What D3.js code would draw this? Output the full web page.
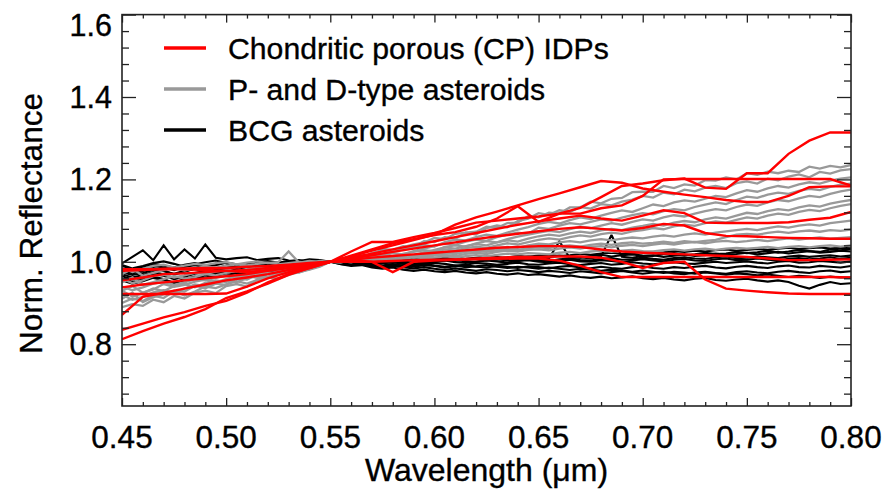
<!DOCTYPE html>
<html><head><meta charset="utf-8">
<script src="https://cdn.jsdelivr.net/npm/d3@7"></script>
<style>body{margin:0;background:#fff}svg{display:block}text{font-family:"Liberation Sans",Arial,Helvetica,sans-serif;fill:#000;stroke:#000;stroke-width:0.35px}</style>
</head><body><svg id="chart" width="888" height="493"></svg>
<script>
// ---------- DATA ----------
const idpWavelengths = [0.45,0.46,0.47,0.48,0.49,0.50,0.51,0.52,0.53,0.54,0.55,0.56,0.57,0.58,0.59,0.60,0.61,0.62,0.63,0.64,0.65,0.66,0.67,0.68,0.69,0.70,0.71,0.72,0.73,0.74,0.75,0.76,0.77,0.78,0.79,0.80];
const asteroidWavelengths = [0.450,0.455,0.460,0.465,0.470,0.475,0.480,0.485,0.490,0.495,0.500,0.505,0.510,0.515,0.520,0.525,0.530,0.535,0.540,0.545,0.550,0.555,0.560,0.565,0.570,0.575,0.580,0.585,0.590,0.595,0.600,0.605,0.610,0.615,0.620,0.625,0.630,0.635,0.640,0.645,0.650,0.655,0.660,0.665,0.670,0.675,0.680,0.685,0.690,0.695,0.700,0.705,0.710,0.715,0.720,0.725,0.730,0.735,0.740,0.745,0.750,0.755,0.760,0.765,0.770,0.775,0.780,0.785,0.790,0.795,0.800];

// Chondritic porous IDPs (red)
const idpSpectra = [
 [0.812,0.832,0.850,0.866,0.885,0.912,0.928,0.947,0.968,0.985,1.000,1.015,1.030,1.045,1.055,1.065,1.072,1.085,1.105,1.135,1.097,1.117,1.131,1.157,1.184,1.190,1.198,1.202,1.180,1.177,1.215,1.215,1.262,1.294,1.314,1.314],
 [0.871,0.915,0.925,0.935,0.945,0.955,0.962,0.970,0.980,0.990,1.000,1.013,1.027,1.040,1.053,1.066,1.090,1.108,1.122,1.137,1.152,1.166,1.181,1.196,1.192,1.178,1.170,1.163,1.157,1.150,1.145,1.145,1.160,1.181,1.183,1.183],
 [0.835,0.850,0.865,0.878,0.893,0.905,0.925,0.950,0.970,0.985,1.000,1.025,1.048,1.048,1.060,1.070,1.082,1.095,1.100,1.105,1.110,1.117,1.117,1.130,1.137,1.160,1.200,1.201,1.201,1.201,1.201,1.201,1.201,1.201,1.201,1.185],
 [0.922,0.922,0.922,0.922,0.922,0.923,0.940,0.960,0.975,0.988,1.000,1.010,1.020,1.030,1.040,1.050,1.060,1.070,1.080,1.090,1.098,1.105,1.112,1.105,1.100,1.112,1.125,1.118,1.095,1.094,1.094,1.094,1.096,1.102,1.107,1.121],
 [0.938,0.945,0.950,0.955,0.960,0.965,0.970,0.978,0.985,0.993,1.000,1.008,1.016,1.024,1.032,1.040,1.047,1.055,1.062,1.068,1.074,1.080,1.084,1.080,1.076,1.082,1.092,1.088,1.070,1.063,1.062,1.060,1.058,1.057,1.056,1.056],
 [0.955,0.962,0.970,0.972,0.975,0.978,0.980,0.985,0.990,0.995,1.000,1.005,1.010,1.014,1.018,1.022,1.026,1.030,1.034,1.036,1.038,1.038,1.036,1.030,1.025,1.022,1.020,1.018,1.016,1.014,1.012,1.008,1.004,1.004,1.005,1.006],
 [0.978,0.980,0.983,0.984,0.985,0.985,0.988,0.990,0.993,0.997,1.000,1.005,1.000,0.975,1.000,1.003,1.005,1.006,1.007,1.008,1.008,1.003,0.990,0.975,0.963,0.963,0.963,0.963,0.963,0.963,0.963,0.963,0.963,0.963,0.963,0.962],
 [0.982,0.982,0.982,0.982,0.980,0.978,0.975,0.980,0.990,0.995,1.000,1.000,1.000,1.002,1.004,1.005,1.006,1.008,1.010,1.012,1.012,1.013,1.013,1.010,1.000,0.985,0.997,1.000,0.957,0.935,0.930,0.926,0.923,0.922,0.922,0.922]
];

// P- and D-type asteroids (gray)
const pdSpectra = [
 [0.900,0.911,0.905,0.918,0.912,0.929,0.928,0.942,0.936,0.947,0.944,0.960,0.957,0.969,0.963,0.978,0.981,0.980,0.996,0.993,1.000,
  1.009,1.007,1.017,1.015,1.031,1.029,1.038,1.036,1.050,1.048,1.060,1.056,1.071,1.073,1.085,1.082,1.094,1.095,1.111,1.108,
  1.119,1.117,1.132,1.132,1.146,1.142,1.153,1.155,1.169,1.170,1.170,1.184,1.179,1.188,1.185,1.198,1.197,1.205,1.200,1.215,
  1.211,1.219,1.215,1.221,1.218,1.231,1.226,1.233,1.229,1.235],
 [0.890,0.897,0.893,0.908,0.902,0.917,0.911,0.925,0.930,0.924,0.941,0.946,0.940,0.957,0.962,0.958,0.972,0.979,0.984,0.991,1.000,
  1.004,1.013,1.009,1.022,1.027,1.024,1.036,1.042,1.047,1.058,1.055,1.068,1.071,1.066,1.082,1.088,1.084,1.099,1.105,1.118,
  1.114,1.125,1.121,1.133,1.129,1.140,1.137,1.146,1.151,1.160,1.156,1.168,1.164,1.175,1.171,1.180,1.184,1.179,1.191,1.195,
  1.190,1.202,1.198,1.207,1.212,1.205,1.218,1.214,1.222,1.225],
 [0.920,0.908,0.915,0.926,0.931,0.924,0.935,0.945,0.941,0.948,0.956,0.951,0.960,0.966,0.962,0.970,0.978,0.974,0.983,0.990,1.000,
  1.004,1.009,1.006,1.013,1.019,1.026,1.031,1.035,1.041,1.037,1.048,1.054,1.052,1.060,1.066,1.063,1.071,1.078,1.084,1.092,
  1.097,1.093,1.101,1.108,1.104,1.112,1.119,1.125,1.121,1.130,1.139,1.135,1.144,1.149,1.146,1.153,1.160,1.157,1.166,1.174,
  1.170,1.178,1.184,1.180,1.188,1.193,1.190,1.197,1.202,1.205],
 [0.930,0.941,0.925,0.933,0.946,0.939,0.944,0.952,0.957,0.950,0.958,0.966,0.963,0.970,0.975,0.972,0.979,0.985,0.982,0.992,1.000,
  0.998,1.006,1.011,1.008,1.015,1.021,1.018,1.026,1.032,1.038,1.045,1.041,1.049,1.054,1.051,1.060,1.066,1.071,1.068,1.083,
  1.080,1.088,1.094,1.091,1.097,1.103,1.100,1.107,1.113,1.118,1.115,1.123,1.128,1.125,1.133,1.139,1.144,1.140,1.150,1.158,
  1.155,1.163,1.168,1.165,1.172,1.177,1.174,1.182,1.187,1.190],
 [0.910,0.925,0.902,0.914,0.921,0.930,0.918,0.928,0.940,0.936,0.945,0.953,0.947,0.956,0.962,0.959,0.968,0.975,0.981,0.988,1.000,
  1.003,1.007,1.004,1.010,1.015,1.012,1.019,1.024,1.028,1.025,1.036,1.040,1.037,1.045,1.050,1.047,1.055,1.061,1.066,1.071,
  1.075,1.072,1.079,1.085,1.082,1.088,1.094,1.090,1.097,1.103,1.100,1.108,1.113,1.110,1.117,1.123,1.128,1.125,1.133,1.139,
  1.136,1.144,1.150,1.147,1.154,1.160,1.157,1.165,1.171,1.175],
 [0.940,0.931,0.938,0.947,0.951,0.944,0.950,0.958,0.955,0.961,0.967,0.963,0.969,0.974,0.971,0.977,0.983,0.980,0.987,0.994,1.000,
  1.003,1.000,1.006,1.010,1.007,1.014,1.019,1.016,1.023,1.029,1.035,1.032,1.038,1.043,1.040,1.047,1.052,1.049,1.056,1.062,
  1.066,1.063,1.069,1.073,1.070,1.076,1.080,1.077,1.083,1.087,1.092,1.088,1.095,1.099,1.096,1.103,1.108,1.105,1.112,1.119,
  1.116,1.123,1.128,1.125,1.132,1.137,1.134,1.141,1.146,1.150],
 [0.950,0.962,0.944,0.951,0.958,0.965,0.959,0.963,0.970,0.967,0.973,0.978,0.975,0.981,0.984,0.980,0.987,0.991,0.988,0.995,1.000,
  1.002,0.999,1.005,1.009,1.006,1.012,1.016,1.013,1.019,1.024,1.030,1.027,1.033,1.037,1.034,1.040,1.045,1.042,1.048,1.053,
  1.057,1.054,1.060,1.064,1.061,1.067,1.071,1.068,1.074,1.077,1.082,1.079,1.086,1.090,1.087,1.094,1.098,1.095,1.102,1.108,
  1.105,1.112,1.117,1.114,1.121,1.126,1.123,1.130,1.136,1.140],
 [0.930,0.916,0.924,0.935,0.929,0.941,0.946,0.938,0.949,0.955,0.951,0.960,0.965,0.961,0.970,0.974,0.971,0.979,0.985,0.992,1.000,
  1.002,1.005,1.001,1.007,1.010,1.007,1.013,1.016,1.013,1.019,1.024,1.021,1.027,1.030,1.027,1.033,1.036,1.034,1.040,1.044,
  1.042,1.047,1.050,1.047,1.052,1.055,1.052,1.056,1.059,1.057,1.061,1.064,1.061,1.066,1.069,1.066,1.071,1.074,1.077,1.080,
  1.077,1.082,1.086,1.083,1.088,1.091,1.088,1.094,1.097,1.100],
 [0.960,0.948,0.955,0.965,0.969,0.962,0.967,0.973,0.970,0.976,0.980,0.977,0.983,0.986,0.983,0.988,0.991,0.989,0.994,0.997,1.000,
  1.002,1.000,1.005,1.008,1.005,1.010,1.013,1.011,1.015,1.018,1.021,1.019,1.024,1.026,1.024,1.028,1.031,1.029,1.033,1.035,
  1.033,1.038,1.040,1.037,1.041,1.044,1.041,1.045,1.047,1.044,1.046,1.049,1.046,1.050,1.048,1.051,1.053,1.060,1.066,1.068,
  1.066,1.070,1.073,1.070,1.074,1.076,1.073,1.077,1.075,1.078],
 [0.970,0.983,0.966,0.973,0.980,0.985,0.979,0.984,0.989,0.986,0.990,0.994,0.991,0.995,0.998,0.994,0.997,1.000,0.998,1.002,1.000,
  1.003,1.006,1.002,1.005,1.008,1.006,1.010,1.013,1.011,1.015,1.017,1.014,1.019,1.022,1.019,1.024,1.027,1.025,1.029,1.030,
  1.028,1.032,1.035,1.032,1.036,1.038,1.035,1.039,1.041,1.038,1.042,1.045,1.042,1.046,1.048,1.045,1.049,1.051,1.048,1.050,
  1.053,1.050,1.054,1.057,1.054,1.057,1.059,1.056,1.058,1.060],
 [0.985,0.975,0.983,0.990,0.993,0.986,0.991,0.995,0.992,0.997,0.999,0.994,0.998,1.001,0.997,0.999,1.025,0.998,1.002,0.999,1.000,
  1.003,1.005,1.002,1.004,1.007,1.005,1.008,1.011,1.009,1.010,1.013,1.011,1.014,1.016,1.013,1.017,1.020,1.018,1.021,1.020,
  1.018,1.022,1.024,1.021,1.025,1.027,1.024,1.027,1.029,1.026,1.025,1.028,1.030,1.027,1.030,1.032,1.029,1.032,1.034,1.032,
  1.034,1.036,1.033,1.036,1.038,1.035,1.038,1.040,1.037,1.040]
];

// BCG asteroids (black)
const bcgSpectra = [
 [0.996,1.012,1.028,1.004,1.040,1.006,1.030,1.008,1.042,1.010,1.006,1.009,1.011,1.004,1.007,1.009,1.003,1.002,1.006,1.004,1.000,
  1.002,1.006,1.003,0.999,1.001,1.005,1.008,1.004,1.003,1.007,1.010,1.006,1.005,1.009,1.008,1.012,1.007,1.009,1.013,1.010,
  1.011,1.015,1.012,1.010,1.014,1.017,1.013,1.016,1.018,1.015,1.014,1.019,1.021,1.016,1.018,1.022,1.019,1.020,1.024,1.021,
  1.023,1.027,1.022,1.025,1.029,1.026,1.024,1.030,1.028,1.031],
 [0.990,0.982,0.988,0.995,0.991,0.986,0.993,0.997,0.990,0.992,0.998,0.994,0.991,0.996,0.999,0.995,0.997,1.002,0.998,0.997,1.000,
  1.002,0.999,1.004,1.003,0.998,1.001,1.005,1.003,1.000,1.004,1.007,1.002,1.005,1.008,1.004,1.006,1.009,1.006,1.005,1.010,
  1.008,1.050,1.009,1.011,1.008,1.013,1.065,1.012,1.010,1.014,1.016,1.012,1.015,1.018,1.014,1.016,1.020,1.017,1.019,1.022,
  1.018,1.021,1.024,1.020,1.023,1.026,1.022,1.024,1.027,1.025],
 [0.985,0.976,0.983,0.990,0.986,0.980,0.988,0.992,0.987,0.984,0.991,0.994,0.990,0.993,0.997,0.992,0.995,0.999,0.996,0.998,1.000,
  1.001,0.997,0.999,1.003,1.000,0.997,1.001,1.004,1.002,0.999,1.003,1.005,1.001,1.000,1.004,1.006,1.003,1.002,1.006,1.004,
  1.002,1.006,1.008,1.004,1.003,1.007,1.009,1.005,1.006,1.010,1.007,1.005,1.009,1.011,1.008,1.007,1.011,1.013,1.009,1.010,
  1.013,1.011,1.009,1.013,1.015,1.012,1.014,1.016,1.013,1.015],
 [0.975,0.968,0.973,0.980,0.977,0.971,0.978,0.983,0.980,0.976,0.984,0.987,0.983,0.986,0.990,0.988,0.985,0.991,0.994,0.996,1.000,
  0.998,1.001,0.997,0.995,0.999,1.002,0.999,0.996,0.998,1.001,1.003,0.999,0.997,1.000,1.003,1.001,0.998,1.002,1.004,1.000,
  0.999,1.003,1.005,1.001,1.000,1.004,1.002,0.999,1.003,1.006,1.003,1.001,1.005,1.007,1.003,1.002,1.006,1.008,1.004,1.005,
  1.008,1.005,1.003,1.007,1.009,1.006,1.008,1.011,1.007,1.010],
 [0.970,0.962,0.968,0.975,0.970,0.960,0.966,0.973,0.978,0.972,0.976,0.982,0.978,0.975,0.983,0.987,0.984,0.989,0.993,0.991,1.000,
  0.997,0.999,0.995,0.993,0.997,0.999,0.995,0.992,0.994,0.997,0.995,0.991,0.993,0.997,0.996,0.993,0.995,0.998,0.994,0.993,
  0.996,0.998,0.994,0.992,0.995,0.997,0.993,0.995,0.999,0.996,0.994,0.997,0.999,0.996,0.995,0.998,1.000,0.997,0.999,1.001,
  0.998,0.996,1.000,1.002,0.998,0.999,1.002,1.000,0.998,1.001],
 [0.965,0.957,0.962,0.970,0.966,0.958,0.964,0.971,0.975,0.970,0.974,0.979,0.976,0.981,0.985,0.982,0.986,0.990,0.988,0.994,1.000,
  0.997,0.994,0.996,0.992,0.990,0.994,0.991,0.988,0.992,0.990,0.986,0.989,0.992,0.988,0.986,0.990,0.988,0.985,0.989,0.987,
  0.984,0.988,0.990,0.986,0.984,0.988,0.985,0.983,0.987,0.989,0.985,0.983,0.987,0.985,0.988,0.990,0.986,0.984,0.988,0.990,
  0.987,0.985,0.989,0.991,0.987,0.986,0.990,0.988,0.986,0.990],
 [0.960,0.951,0.957,0.964,0.958,0.948,0.955,0.962,0.967,0.962,0.968,0.973,0.969,0.975,0.979,0.976,0.981,0.986,0.983,0.992,1.000,
  0.995,0.992,0.994,0.989,0.986,0.990,0.987,0.984,0.987,0.983,0.980,0.984,0.981,0.978,0.982,0.980,0.977,0.980,0.978,0.975,
  0.978,0.976,0.973,0.977,0.975,0.972,0.975,0.978,0.974,0.971,0.974,0.976,0.972,0.970,0.974,0.976,0.973,0.971,0.975,0.977,
  0.974,0.972,0.976,0.978,0.975,0.973,0.977,0.979,0.975,0.977],
 [0.955,0.947,0.953,0.961,0.956,0.950,0.958,0.964,0.960,0.966,0.970,0.965,0.971,0.976,0.973,0.979,0.983,0.980,0.987,0.993,1.000,
  0.994,0.990,0.992,0.986,0.983,0.986,0.981,0.978,0.981,0.977,0.975,0.978,0.974,0.972,0.975,0.971,0.969,0.972,0.968,0.970,
  0.967,0.964,0.967,0.963,0.961,0.964,0.960,0.962,0.965,0.960,0.958,0.961,0.957,0.955,0.959,0.961,0.956,0.954,0.957,0.959,
  0.955,0.952,0.955,0.951,0.942,0.935,0.944,0.951,0.946,0.948],
 [0.980,0.972,0.978,0.985,0.979,0.969,0.976,0.983,0.988,0.982,0.986,0.991,0.985,0.989,0.993,0.990,0.994,0.997,0.993,0.996,1.000,
  0.997,0.999,0.995,0.993,0.996,0.992,0.990,0.993,0.995,0.991,0.988,0.991,0.987,0.989,0.992,0.988,0.985,0.988,0.986,0.983,
  0.986,0.983,0.980,0.983,0.981,0.978,0.981,0.979,0.976,0.979,0.976,0.973,0.976,0.974,0.971,0.974,0.972,0.969,0.972,0.970,
  0.967,0.969,0.966,0.963,0.966,0.964,0.961,0.964,0.962,0.962],
 [0.992,0.984,0.990,0.997,1.001,0.995,0.988,0.994,0.999,1.003,0.997,0.991,0.996,1.000,1.002,0.998,1.001,1.004,0.999,1.001,1.000,
  1.003,1.005,1.001,1.004,1.007,1.003,1.005,1.008,1.006,1.004,1.008,1.011,1.007,1.010,1.013,1.009,1.011,1.014,1.012,1.015,
  1.017,1.014,1.016,1.019,1.017,1.020,1.022,1.019,1.021,1.024,1.021,1.023,1.026,1.024,1.027,1.025,1.028,1.030,1.027,1.029,
  1.031,1.029,1.032,1.034,1.031,1.033,1.035,1.032,1.034,1.033]
];

const xTickValues = [0.45,0.50,0.55,0.60,0.65,0.70,0.75,0.80];
const xTickLabels = ["0.45","0.50","0.55","0.60","0.65","0.70","0.75","0.80"];
const yTickValues = [0.8,1.0,1.2,1.4,1.6];
const yTickLabels = ["0.8","1.0","1.2","1.4","1.6"];
const legendLabels = ["Chondritic porous (CP) IDPs","P- and D-type asteroids","BCG asteroids"];
const legendColors = ["#ff0000","#999999","#000000"];
const xTitle = "Wavelength (\u03bcm)";
const yTitle = "Norm. Reflectance";

// ---------- CHART ----------
const svg = d3.select("#chart");
const L = 122, R = 851, T = 14.6, B = 406;
const x = d3.scaleLinear().domain([0.45, 0.80]).range([L, R]);
const y = d3.scaleLinear().domain([0.65, 1.60]).range([B, T]);

svg.append("defs").append("clipPath").attr("id","clip")
  .append("rect").attr("x",L).attr("y",T).attr("width",R-L).attr("height",B-T);

const plot = svg.append("g").attr("clip-path","url(#clip)");
function drawGroup(spectra, wl, color, width){
  const line = d3.line()
    .defined((d,i)=> d!=null && wl[i]!=null)
    .x((d,i)=>x(wl[i])).y(d=>y(d));
  plot.append("g").selectAll("path").data(spectra).join("path")
    .attr("d", line).attr("fill","none").attr("stroke",color)
    .attr("stroke-width",width).attr("stroke-linejoin","miter").attr("stroke-miterlimit",2);
}
drawGroup(bcgSpectra, asteroidWavelengths, "#000000", 2.1);
drawGroup(pdSpectra, asteroidWavelengths, "#999999", 2.3);
drawGroup(idpSpectra, idpWavelengths, "#ff0000", 2.4);

// axes (ticks inward, IDL style)
const xMinor = d3.range(0.45, 0.8001, 0.01).filter(v => !xTickValues.some(t => Math.abs(t-v) < 1e-6));
const yMinor = d3.range(0.68, 1.6001, 0.04).filter(v => !yTickValues.some(t => Math.abs(t-v) < 1e-6));
function styleAxis(g){ g.select(".domain").remove(); g.selectAll("text").remove(); g.selectAll("line").attr("stroke","#222").attr("stroke-width",1.3); }
svg.append("g").attr("transform",`translate(0,${B})`).call(d3.axisBottom(x).tickValues(xTickValues).tickSize(-8)).call(styleAxis);
svg.append("g").attr("transform",`translate(0,${B})`).call(d3.axisBottom(x).tickValues(xMinor).tickSize(-4)).call(styleAxis);
svg.append("g").attr("transform",`translate(0,${T})`).call(d3.axisTop(x).tickValues(xTickValues).tickSize(-8)).call(styleAxis);
svg.append("g").attr("transform",`translate(0,${T})`).call(d3.axisTop(x).tickValues(xMinor).tickSize(-4)).call(styleAxis);
svg.append("g").attr("transform",`translate(${L},0)`).call(d3.axisLeft(y).tickValues(yTickValues).tickSize(-14)).call(styleAxis);
svg.append("g").attr("transform",`translate(${L},0)`).call(d3.axisLeft(y).tickValues(yMinor).tickSize(-7)).call(styleAxis);
svg.append("g").attr("transform",`translate(${R},0)`).call(d3.axisRight(y).tickValues(yTickValues).tickSize(-14)).call(styleAxis);
svg.append("g").attr("transform",`translate(${R},0)`).call(d3.axisRight(y).tickValues(yMinor).tickSize(-7)).call(styleAxis);

svg.append("rect").attr("x",L).attr("y",T).attr("width",R-L).attr("height",B-T)
  .attr("fill","none").attr("stroke","#222").attr("stroke-width",1.6);

// tick labels
svg.append("g").selectAll("text").data(xTickValues).join("text")
  .attr("x", d=>x(d)).attr("y", 448).attr("text-anchor","middle")
  .attr("font-size",31.5).text((d,i)=>xTickLabels[i]);
svg.append("g").selectAll("text").data(yTickValues).join("text")
  .attr("x", 112).attr("y", d=>Math.max(y(d), T+10.4) + 10.8).attr("text-anchor","end")
  .attr("font-size",30.5).text((d,i)=>yTickLabels[i]);

// axis titles
svg.append("text").attr("x",(L+R)/2).attr("y",481).attr("text-anchor","middle")
  .attr("font-size",32).text(xTitle);
svg.append("text").attr("transform","translate(41.5,223.5) rotate(-90)").attr("text-anchor","middle")
  .attr("font-size",31.5).text(yTitle);

// legend
const lg = svg.append("g");
legendLabels.forEach((lab,i)=>{
  const yy = 48 + i*41;
  lg.append("line").attr("x1",164).attr("x2",206).attr("y1",yy).attr("y2",yy)
    .attr("stroke",legendColors[i]).attr("stroke-width",3.6);
  lg.append("text").attr("x",228).attr("y",yy+10.5).attr("font-size",30.2).text(lab);
});
</script></body></html>
